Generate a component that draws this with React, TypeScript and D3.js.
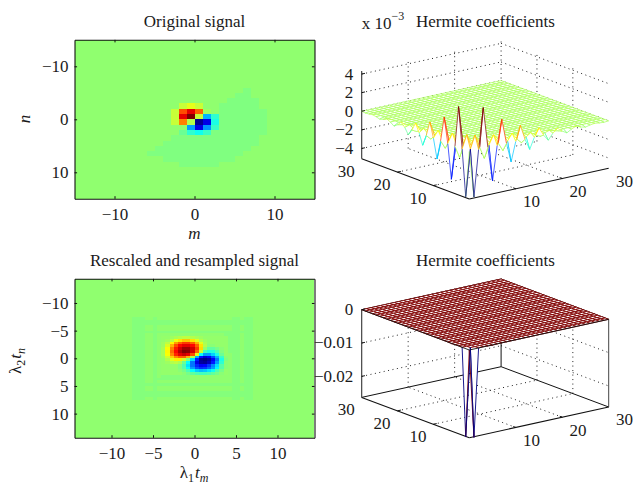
import { useEffect, useRef } from 'react';
import * as d3 from 'd3';

// ---- image data, jet position 0..1 (0.5 is pure green) ----
const backgroundLevel = 0.516;
const faintLevel = 0.5;
const ringLevel = 0.504;

// original signal: peak cells, rows n, columns m
const peakRows = [-3, -2, -1, 0, 1, 2];
const peakStart = [-2, -3, -3, -3, -1, -2];
const peakValues = [
  [0.57, 0.6, 0.57],
  [0.57, 0.8, 0.9, 0.78, 0.53],
  [0.57, 0.9, 1.0, 0.57, 0.3, 0.42],
  [0.57, 0.75, 0.55, 0.02, 0.1, 0.4],
  [0.28, 0.1, 0.27, 0.43],
  [0.48, 0.42, 0.39, 0.43],
];

// original signal: faint plateau, one run of cells per row
const plateauRows = [-6, -5, -4, -3, -2, -1, 0, 1, 2, 3, 4, 5, 6, 7, 8];
const plateauFrom = [6, 5, 4, 3, 3, 3, 3, 3, -2, -3, -4, -5, -6, -4, -2];
const plateauTo = [6, 6, 7, 7, 8, 8, 8, 8, 8, 7, 7, 6, 5, 4, 2];

// resampled signal: the dipole, half-unit cells
const blobColStart = -8;
const blobRowStart = -8;
const blobValues = [
  [52, 52, 53, 54, 55, 56, 56, 55, 54, 53, 52, 52, 52, 52, 52, 52],
  [52, 53, 56, 61, 65, 68, 68, 65, 60, 55, 53, 52, 52, 52, 52, 52],
  [53, 56, 63, 72, 78, 82, 82, 78, 70, 60, 54, 52, 52, 52, 52, 52],
  [53, 59, 70, 80, 87, 90, 90, 87, 78, 65, 55, 51, 51, 52, 52, 52],
  [54, 62, 75, 85, 92, 97, 97, 92, 82, 66, 52, 47, 47, 49, 51, 52],
  [54, 63, 77, 87, 95, 100, 99, 92, 78, 58, 44, 40, 41, 45, 50, 52],
  [54, 62, 74, 84, 90, 93, 90, 80, 60, 38, 28, 28, 33, 40, 48, 52],
  [53, 58, 67, 74, 78, 78, 70, 55, 30, 14, 8, 12, 20, 30, 43, 51],
  [52, 55, 60, 64, 64, 58, 50, 34, 15, 2, 0, 3, 12, 24, 40, 50],
  [52, 53, 55, 56, 54, 48, 38, 24, 10, 3, 2, 6, 15, 28, 42, 51],
  [52, 52, 52, 52, 50, 45, 35, 24, 16, 12, 13, 18, 26, 35, 46, 51],
  [52, 52, 52, 52, 50, 46, 38, 28, 20, 17, 18, 22, 28, 37, 46, 51],
  [52, 52, 52, 52, 51, 49, 45, 38, 33, 31, 32, 35, 39, 45, 49, 52],
  [52, 52, 52, 52, 52, 51, 49, 47, 45, 44, 44, 45, 47, 49, 51, 52],
];

// resampled signal: ringing bands around the dipole, half-unit cells
const ringCols = [-15, -14, -13, -10, 9, 10, 12, 13];
const ringRows = [-14, -13, -10, 9, 12, 13];
const wedgeUpperRows = [-10, -9, -8, -7, -6, -5, -4, -3];
const wedgeUpperFrom = [8, 7, 6, 5, 4, 3, 2, 2];
const wedgeLowerRows = [1, 2, 3, 4, 5, 6, 7];
const wedgeLowerFrom = [-3, -4, -5, -6, -7, -8, -9];

// ---- Hermite coefficients, symmetric in the two indices ----
// coefRows[r] holds the values of c(r, s) for s = r + 1, r + 3, ...
const coefRows = [
  [-5, 4.4, -3.7, 2.7, -2.1, 1.6, -1.2, 0.9, -0.65, 0.42, -0.3, 0.2, -0.12, 0.07, -0.04],
  [1.4, -1.3, 1.0, -0.9, 0.7, -0.5, 0.35, -0.25, 0.15, -0.1],
  [-0.7, 0.6, -0.5, 0.4, -0.3, 0.2, -0.12],
  [0.5, -0.4, 0.3, -0.2, 0.12],
  [-0.25, 0.2, -0.12],
];
const coefRowsScaled = [[-0.0265, 0.0001, -0.0001]];

const gridTicks = [10, 20];
const axisLabels = [10, 20, 30];
const zTicksTop = [-4, -2, 0, 2, 4];
const zTicksBottom = [-0.02, -0.01, 0];

const font = '"Liberation Serif", serif';
const fontSize = 17;
const meshSize = 30;

const jet = (t: number) => {
  const c = (v: number) => Math.round(255 * Math.max(0, Math.min(1, 1.5 - Math.abs(4 * t - v))));
  return `rgb(${c(3)},${c(2)},${c(1)})`;
};

type Sel = d3.Selection<SVGGElement, unknown, null, undefined>;

// box with inward ticks on all four sides, like a MATLAB image axes
const drawFrame = (g: Sel, x: any, y: any, xTicks: number[], yTicks: number[]) => {
  const [x0, x1] = x.range();
  const [y0, y1] = y.range();
  const axes: [any, number, number, number][] = [
    [d3.axisBottom(x).tickValues(xTicks), 0, y1, 9],
    [d3.axisTop(x).tickValues(xTicks), 0, y0, -1],
    [d3.axisLeft(y).tickValues(yTicks), x0, 0, 6],
    [d3.axisRight(y).tickValues(yTicks), x1, 0, -1],
  ];
  axes.forEach(([axis, tx, ty, pad]) => {
    if (pad < 0) axis.tickFormat(() => '');
    const a = g.append('g')
      .attr('transform', `translate(${tx},${ty})`)
      .call(axis.tickSizeInner(-2.6).tickSizeOuter(0).tickPadding(Math.max(pad, 0)));
    a.select('.domain').attr('stroke', '#111').attr('stroke-width', 1.1);
    a.selectAll('line').attr('stroke', '#111');
    a.selectAll('text').attr('font-family', font).attr('font-size', fontSize).attr('fill', '#1a1a1a');
  });
};

const addCell = (g: Sel, x: any, y: any, m: number, n: number, w: number, t: number) => {
  g.append('rect')
    .attr('x', x(m))
    .attr('y', y(n))
    .attr('width', x(m + w) - x(m))
    .attr('height', y(n + w) - y(n))
    .attr('fill', jet(t))
    .attr('shape-rendering', 'crispEdges');
};

const drawOriginal = (g: Sel) => {
  const x = d3.scaleLinear().domain([-15, 15]).range([74.5, 314.5]);
  const y = d3.scaleLinear().domain([-15, 15]).range([39.8, 198.8]);
  addCell(g, x, y, -15, -15, 30, backgroundLevel);
  plateauRows.forEach((n, r) => {
    d3.range(plateauFrom[r], plateauTo[r] + 1).forEach(m => addCell(g, x, y, m, n, 1, faintLevel));
  });
  peakRows.forEach((n, r) => {
    peakValues[r].forEach((t, c) => addCell(g, x, y, peakStart[r] + c, n, 1, t));
  });
  drawFrame(g, x, y, [-10, 0, 10], [-10, 0, 10]);
};

const drawResampled = (g: Sel) => {
  const x = d3.scaleLinear().domain([-14.46, 14.46]).range([74.5, 314.5]);
  const y = d3.scaleLinear().domain([-14.37, 14.37]).range([278.8, 437.8]);
  addCell(g, x, y, -14.46, -14.37, 28.8, backgroundLevel);
  const half = (v: number) => v / 2;
  ringCols.forEach(k => {
    d3.range(-15, 15).forEach(l => addCell(g, x, y, half(k), half(l), 0.5, ringLevel));
  });
  ringRows.forEach(l => {
    d3.range(-14, 14).forEach(k => addCell(g, x, y, half(k), half(l), 0.5, ringLevel));
  });
  wedgeUpperRows.forEach((l, r) => {
    d3.range(wedgeUpperFrom[r], 9).forEach(k => addCell(g, x, y, half(k), half(l), 0.5, ringLevel));
  });
  wedgeLowerRows.forEach((l, r) => {
    d3.range(wedgeLowerFrom[r], -1).forEach(k => addCell(g, x, y, half(k), half(l), 0.5, ringLevel));
  });
  blobValues.forEach((row, r) => {
    row.forEach((v, c) => addCell(g, x, y, half(blobColStart + c), half(blobRowStart + r), 0.5, v / 100));
  });
  drawFrame(g, x, y, [-10, -5, 0, 5, 10], [-10, -5, 0, 5, 10]);
};

const drawMesh = (
  g: Sel,
  floorY: number,
  rows: number[][],
  zDomain: [number, number],
  zTicks: number[],
  boxed: boolean,
  meshWidth: number,
) => {
  const frontX = 469.3;
  const rightX = d3.scaleLinear().domain([0, meshSize]).range([0, 139.4]);
  const rightY = d3.scaleLinear().domain([0, meshSize]).range([0, -30.7]);
  const leftX = d3.scaleLinear().domain([0, meshSize]).range([0, -107.6]);
  const leftY = d3.scaleLinear().domain([0, meshSize]).range([0, -40.3]);
  const zPx = d3.scaleLinear().domain(zDomain).range([0, -87.7]);
  const level = d3.scaleLinear().domain(zDomain).range([0, 1]).clamp(true);

  const project = (i: number, j: number, z: number): [number, number] => [
    frontX + rightX(i) + leftX(j),
    floorY + rightY(i) + leftY(j) + zPx(z),
  ];

  const zAt = (i: number, j: number) => {
    const r = Math.min(i, j);
    const s = Math.max(i, j);
    if (r >= rows.length || (s - r) % 2 === 0) return 0;
    const v = rows[r][(s - r - 1) / 2];
    return v === undefined ? 0 : v;
  };

  const zBase = zDomain[0];
  const seg = (a: [number, number], b: [number, number], stroke: string, width: number, dash?: string) => {
    const l = g.append('line')
      .attr('x1', a[0]).attr('y1', a[1])
      .attr('x2', b[0]).attr('y2', b[1])
      .attr('stroke', stroke)
      .attr('stroke-width', width);
    if (dash) l.attr('stroke-dasharray', dash);
  };
  const black = '#111';
  const dots = '1 3.5';
  const zTop = zDomain[1];

  // dotted grid on the floor and the two back walls
  gridTicks.forEach(v => {
    seg(project(v, 0, zBase), project(v, meshSize, zBase), '#222', 1, dots);
    seg(project(0, v, zBase), project(meshSize, v, zBase), '#222', 1, dots);
    seg(project(v, meshSize, zBase), project(v, meshSize, zTop), '#222', 1, dots);
    seg(project(meshSize, v, zBase), project(meshSize, v, zTop), '#222', 1, dots);
  });
  zTicks.forEach(z => {
    seg(project(0, meshSize, z), project(meshSize, meshSize, z), '#222', 1, dots);
    seg(project(meshSize, meshSize, z), project(meshSize, 0, z), '#222', 1, dots);
  });
  if (boxed) {
    seg(project(0, meshSize, zBase), project(meshSize, meshSize, zBase), black, 1);
    seg(project(meshSize, meshSize, zBase), project(meshSize, 0, zBase), black, 1);
    seg(project(meshSize, meshSize, zBase), project(meshSize, meshSize, zTop), black, 1);
    seg(project(0, meshSize, zTop), project(meshSize, meshSize, zTop), black, 1);
    seg(project(meshSize, meshSize, zTop), project(meshSize, 0, zTop), black, 1);
    seg(project(meshSize, 0, zBase), project(meshSize, 0, zTop), '#444', 1);
  } else {
    seg(project(meshSize, meshSize, zBase), project(meshSize, meshSize, zTop), '#222', 1, dots);
  }

  // solid axes
  seg(project(0, meshSize, zBase), project(0, 0, zBase), black, 1.1);
  seg(project(0, 0, zBase), project(meshSize, 0, zBase), black, 1.1);
  seg(project(0, meshSize, zBase), project(0, meshSize, zTop), '#333', 1.1);

  // mesh with hidden lines: white faces, painted back to front
  const edgeColor = (i0: number, j0: number, i1: number, j1: number) => {
    const a = zAt(i0, j0);
    const b = zAt(i1, j1);
    if (i0 === 0 && j0 === 0) return jet(level(a));
    const aTip = Math.abs(a) >= Math.abs(b);
    const tip = aTip ? a : b;
    const onAxis = aTip ? Math.min(i0, j0) === 0 : Math.min(i1, j1) === 0;
    // inner dips keep the colour of the sheet, only the axis spikes show their tip
    return jet(level(!onAxis && tip < 0 ? 0 : tip));
  };
  d3.range(meshSize - 1, -1, -1).forEach(i => {
    d3.range(meshSize - 1, -1, -1).forEach(j => {
      const nodes: [number, number][] = [[i, j], [i + 1, j], [i + 1, j + 1], [i, j + 1]];
      const pts = nodes.map(([a, b]) => project(a, b, zAt(a, b)));
      g.append('polygon').attr('points', pts.join(' ')).attr('fill', '#fff');
      const edges = [[0, 1], [0, 3], [1, 2], [3, 2]];
      edges.forEach(([p, q]) => {
        seg(pts[p], pts[q], edgeColor(nodes[p][0], nodes[p][1], nodes[q][0], nodes[q][1]), meshWidth);
      });
    });
  });

  if (boxed) {
    seg(project(0, meshSize, zTop), project(0, 0, zTop), black, 0.9);
    seg(project(0, 0, zTop), project(meshSize, 0, zTop), black, 0.9);
  }

  // ticks and labels
  const label = (p: [number, number], dx: number, dy: number, text: string, anchor = 'middle') => {
    g.append('text')
      .attr('x', p[0] + dx)
      .attr('y', p[1] + dy)
      .attr('dy', '0.32em')
      .attr('text-anchor', anchor)
      .attr('font-family', font)
      .attr('font-size', fontSize)
      .attr('fill', '#1a1a1a')
      .text(text);
  };
  axisLabels.forEach(v => {
    if (v < meshSize) {
      seg(project(0, v, zBase), project(0.7, v, zBase), black, 1);
      seg(project(v, 0, zBase), project(v, 0.7, zBase), black, 1);
    }
    label(project(0, v, zBase), -15.5, 12.5, String(v));
    label(project(v, 0, zBase), 15.8, 13, String(v));
  });
  zTicks.forEach(z => {
    const p = project(0, meshSize, z);
    seg(p, project(0.7, meshSize, z), black, 1);
    label([353.3, p[1]], 0, 0, d3.format('')(z), 'end');
  });
};

const addTitle = (g: Sel, x: number, y: number, text: string) => {
  g.append('text')
    .attr('x', x).attr('y', y)
    .attr('text-anchor', 'middle')
    .attr('font-family', font)
    .attr('font-size', fontSize)
    .attr('fill', '#1a1a1a')
    .text(text);
};

// lambda-with-subscripts label: λ, index, italic t, italic index
const addLambdaLabel = (g: Sel, transform: string, sub1: string, sub2: string) => {
  const t = g.append('text')
    .attr('transform', transform)
    .attr('text-anchor', 'middle')
    .attr('font-family', font)
    .attr('font-size', fontSize)
    .attr('fill', '#1a1a1a');
  t.append('tspan').text('λ');
  t.append('tspan').attr('dy', 4).attr('font-size', 12).text(sub1);
  t.append('tspan').attr('dy', -4).attr('dx', 1).attr('font-style', 'italic').text('t');
  t.append('tspan').attr('dy', 4).attr('font-size', 12).attr('font-style', 'italic').text(sub2);
};

const App = () => {
  const svgRef = useRef<SVGSVGElement>(null);

  useEffect(() => {
    const svg = d3.select(svgRef.current as SVGSVGElement);
    svg.selectAll('*').remove();
    const root = svg.append('g') as unknown as Sel;

    drawOriginal(root);
    drawResampled(root);

    drawMesh(root, 199, coefRows, [-5.1, 4.33], zTicksTop, false, 0.7);
    drawMesh(root, 437.7, coefRowsScaled, [-0.0263, 0], zTicksBottom, true, 0.9);

    addTitle(root, 194.5, 26.7, 'Original signal');
    addTitle(root, 485.5, 26.7, 'Hermite coefficients');
    addTitle(root, 194.5, 265.7, 'Rescaled and resampled signal');
    addTitle(root, 485.5, 265.7, 'Hermite coefficients');

    // x 10^-3 multiplier of the upper mesh
    const mult = root.append('text')
      .attr('x', 361.7).attr('y', 28.5)
      .attr('font-family', font)
      .attr('font-size', fontSize)
      .attr('fill', '#1a1a1a');
    mult.append('tspan').text('x 10');
    mult.append('tspan').attr('dy', -9).attr('font-size', 12).text('−3');

    root.append('text')
      .attr('x', 194.5).attr('y', 239)
      .attr('text-anchor', 'middle')
      .attr('font-family', font).attr('font-style', 'italic').attr('font-size', fontSize)
      .attr('fill', '#1a1a1a')
      .text('m');
    root.append('text')
      .attr('transform', 'translate(30,119) rotate(-90)')
      .attr('text-anchor', 'middle')
      .attr('font-family', font).attr('font-style', 'italic').attr('font-size', fontSize)
      .attr('fill', '#1a1a1a')
      .text('n');

    addLambdaLabel(root, 'translate(194,478)', '1', 'm');
    addLambdaLabel(root, 'translate(21,361) rotate(-90)', '2', 'n');
  }, []);

  return (
    <svg
      ref={svgRef}
      width={635}
      height={485}
      style={{ position: 'absolute', left: 0, top: 0, background: '#fff' }}
    />
  );
};

export default App;
